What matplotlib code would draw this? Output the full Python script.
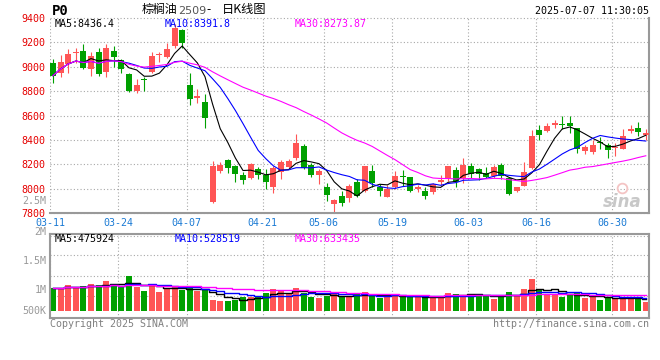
import numpy as np
import pandas as pd
import matplotlib
matplotlib.use("Agg")
import matplotlib.pyplot as plt

plt.rcParams['font.family'] = ['DejaVu Sans Mono', 'Noto Sans CJK SC']

# ---------------- data ----------------
date_labels = ['03-11', '03-24', '04-07', '04-21', '05-06', '05-19', '06-03', '06-16', '06-30']
date_pos = [0, 9, 18, 28, 36, 45, 55, 64, 74]

opens = [9029, 8953, 9024, 9111, 9130, 8980, 9119, 8961, 9130, 9056,
         8942, 8802, 8901, 8955, 9097, 9078, 9171, 9304, 8851, 8742,
         8715, 7896, 8150, 8237, 8188, 8114, 8093, 8161, 8114, 8019,
         8136, 8183, 8251, 8352, 8196, 8114, 8019, 7874, 7945, 7923,
         8060, 7983, 8147, 8019, 7937, 8019, 8109, 8101, 7997, 7986,
         7972, 8060, 8087, 8155, 8087, 8188, 8161, 8128, 8109, 8196,
         8093, 7983, 8027, 8169, 8483, 8478, 8524, 8529, 8538, 8497,
         8311, 8300, 8382, 8360, 8338, 8327, 8478, 8502, 8442]
highs = [9062, 9097, 9146, 9152, 9187, 9125, 9152, 9187, 9171, 9062,
         8947, 8898, 8920, 9125, 9125, 9193, 9351, 9310, 8947, 8816,
         8775, 8229, 8224, 8245, 8196, 8142, 8210, 8183, 8161, 8188,
         8237, 8245, 8450, 8368, 8216, 8161, 8052, 7915, 7986, 8041,
         8082, 8191, 8196, 8041, 8033, 8150, 8155, 8101, 8033, 8019,
         8046, 8114, 8191, 8183, 8256, 8210, 8169, 8177, 8196, 8216,
         8101, 8019, 8218, 8483, 8524, 8538, 8565, 8598, 8598, 8502,
         8360, 8401, 8423, 8374, 8374, 8488, 8524, 8551, 8491]
lows = [8871, 8920, 8947, 9029, 8980, 8928, 8928, 8920, 9002, 8953,
        8797, 8783, 8802, 8947, 9043, 9070, 9152, 9152, 8687, 8707,
        8502, 7888, 8128, 8128, 8060, 8041, 8079, 8079, 7997, 7970,
        8082, 8175, 8237, 8161, 8101, 8041, 7904, 7800, 7861, 7896,
        7937, 7978, 8019, 7945, 7937, 7997, 8024, 7978, 7978, 7918,
        7959, 8033, 8068, 8019, 8052, 8087, 8074, 8087, 8093, 8079,
        7950, 7978, 8027, 8161, 8401, 8469, 8497, 8494, 8456, 8297,
        8286, 8286, 8327, 8251, 8273, 8324, 8456, 8434, 8401]
closes = [8928, 9037, 9105, 9119, 8988, 9089, 8939, 9152, 9084, 8983,
          8802, 8852, 8893, 9089, 9105, 9146, 9316, 9198, 8736, 8761,
          8584, 8191, 8196, 8169, 8123, 8074, 8205, 8114, 8060, 8169,
          8218, 8229, 8374, 8169, 8114, 8147, 7950, 7910, 7882, 8024,
          7945, 8191, 8046, 7983, 8000, 8109, 8095, 7983, 8019, 7945,
          8041, 8074, 8191, 8054, 8196, 8123, 8120, 8101, 8183, 8109,
          7959, 8013, 8142, 8434, 8442, 8516, 8538, 8524, 8516, 8325,
          8346, 8360, 8374, 8319, 8346, 8437, 8488, 8469, 8456]
volumes_k = [991, 991, 1110, 965, 1060, 1150, 1110, 1280, 1150, 1030,
             1500, 1030, 862, 1150, 819, 965, 1030, 892, 1030, 849,
             892, 461, 418, 418, 461, 603, 578, 634, 776, 935,
             849, 720, 991, 776, 603, 560, 634, 720, 603, 603,
             720, 819, 634, 560, 690, 690, 603, 603, 603, 560,
             634, 634, 776, 720, 690, 690, 690, 690, 504, 690,
             819, 634, 935, 1370, 892, 690, 690, 603, 690, 748,
             560, 634, 461, 603, 560, 560, 504, 504, 388]

# ---------------- layout helpers (pixels of a 660x360 image) ----------------
W, H = 660, 360
def fx(px):
    return px / W
def fy(py):
    return 1 - py / H

RED = '#ff5555'
GREEN = '#00a000'
GRID = '#a8a8a8'
BORDER = '#999999'
SLOT = 7.6  # px per trading day

o = np.array(opens, float)
h = np.array(highs, float)
l = np.array(lows, float)
c = np.array(closes, float)
v = np.array(volumes_k, float) * 1000
n = len(c)
x = np.arange(n) + 3 / SLOT
cols = np.where(c >= o, RED, GREEN)

fig = plt.figure(figsize=(6.6, 3.6), dpi=100)

# ---------------- price panel ----------------
ax = fig.add_axes([fx(50), fy(213.3), 599.3 / W, 195.3 / H])
ax.set_xlim(0, 599.3 / SLOT)
ax.set_ylim(7800, 9400)
for yv in range(7800, 9401, 200):
    ax.axhline(yv, color=GRID, lw=0.8, ls=(0, (1, 2)), zorder=0, clip_on=False)
for xv in date_pos:
    ax.axvline(xv, color=GRID, lw=0.8, ls=(0, (1, 2)), zorder=0)

ax.vlines(x, l, h, colors=cols, lw=0.8, zorder=2)
body = np.maximum(np.abs(c - o), 9)
ax.bar(x, body, bottom=np.minimum(o, c), width=6 / SLOT, color=cols, lw=0, zorder=3)

cs = pd.Series(c)
ax.plot(x, cs.rolling(5, min_periods=1).mean(), color='black', lw=0.8, zorder=4)
ax.plot(x, cs.rolling(10, min_periods=1).mean(), color='blue', lw=0.8, zorder=4)
ax.plot(x, cs.rolling(30, min_periods=1).mean(), color='magenta', lw=0.8, zorder=4)

ax.set_yticks(range(7800, 9401, 200))
ax.set_xticks(date_pos)
ax.set_xticklabels(date_labels)
ax.tick_params(axis='y', length=0, pad=3, labelcolor='#e50000', labelsize=7.2)
ax.tick_params(axis='x', length=0, pad=3.2, labelcolor='#1a7ad4', labelsize=7.2)
for s in ['top', 'left']:
    ax.spines[s].set_visible(False)
for s in ['bottom', 'right']:
    ax.spines[s].set_color(BORDER)
    ax.spines[s].set_linewidth(1.5)

# sina watermark
ax.plot([0.955], [0.13], 'o', transform=ax.transAxes, ms=7, mfc='none',
        mec='#f4c4c4', mew=1.3, zorder=1)
ax.text(0.955, 0.06, 'sina', transform=ax.transAxes, ha='center', va='center',
        fontsize=12, style='italic', weight='bold', color='#c8c8c8',
        family='DejaVu Sans', zorder=1)

# ---------------- volume panel ----------------
vax = fig.add_axes([fx(50), fy(317.7), 599.3 / W, 83.4 / H])
vax.set_xlim(0, 599.3 / SLOT)
vax.set_ylim(-7 * 43100, 76.4 * 43100)
for f in [0.264, 0.504, 0.748, 0.983]:
    vax.plot([0, 1], [f, f], transform=vax.transAxes, color=GRID, lw=0.8,
             ls=(0, (1, 2)), zorder=0)
for xv in date_pos:
    vax.axvline(xv, color=GRID, lw=0.8, ls=(0, (1, 2)), zorder=0)
vax.bar(x, v, width=6 / SLOT, color=cols, lw=0, zorder=2)
vs = pd.Series(v)
vax.plot(x, vs.rolling(5, min_periods=1).mean(), color='black', lw=1, drawstyle='steps-mid', zorder=3)
vax.plot(x, vs.rolling(10, min_periods=1).mean(), color='blue', lw=1, drawstyle='steps-mid', zorder=3)
vax.plot(x, vs.rolling(30, min_periods=1).mean(), color='magenta', lw=1, drawstyle='steps-mid', zorder=3)
vax.set_xticks([])
vax.set_yticks([])
for s in vax.spines.values():
    s.set_color(BORDER)
    s.set_linewidth(1.5)

# ---------------- texts ----------------
fs = 7.2
cjk = ['Noto Sans CJK SC', 'DejaVu Sans']
fig.text(fx(52), fy(11), 'P0', fontsize=10, weight='bold', va='center', ha='left')
fig.text(fx(141.5), fy(10), '棕榈油', fontsize=8.6, va='center', ha='left', family=cjk)
fig.text(fx(178.5), fy(10.5), '2509', fontsize=8, va='center', ha='left',
         color='#555555', family='DejaVu Sans')
fig.text(fx(206), fy(10), '-', fontsize=8.6, va='center', ha='left', family=cjk)
fig.text(fx(221.5), fy(10), '日K线图', fontsize=8.8, va='center', ha='left', family=cjk)
fig.text(fx(649), fy(11.5), '2025-07-07 11:30:05', fontsize=fs, va='center', ha='right')

fig.text(fx(55), fy(24), 'MA5:8436.4', fontsize=fs, va='center', color='black')
fig.text(fx(165), fy(24), 'MA10:8391.8', fontsize=fs, va='center', color='blue')
fig.text(fx(295), fy(24), 'MA30:8273.87', fontsize=fs, va='center', color='magenta')

fig.text(fx(55), fy(238.5), 'MA5:475924', fontsize=fs, va='center', color='black')
fig.text(fx(175), fy(238.5), 'MA10:528519', fontsize=fs, va='center', color='blue')
fig.text(fx(295), fy(238.5), 'MA30:633435', fontsize=fs, va='center', color='magenta')

vol_labels = ['2.5M', '2M', '1.5M', '1M', '500K']
vol_label_y = [200.7, 231.5, 260.5, 290.3, 311]
for t, yy in zip(vol_labels, vol_label_y):
    fig.text(fx(46.5), fy(yy), t, fontsize=fs, va='center', ha='right', color='#999999')

fig.text(fx(50), fy(324), 'Copyright 2025 SINA.COM', fontsize=fs, va='center', color='#808080')
fig.text(fx(649), fy(324), 'http://finance.sina.com.cn', fontsize=fs, va='center',
         ha='right', color='#808080')

fig.savefig('out.png', dpi=100)
